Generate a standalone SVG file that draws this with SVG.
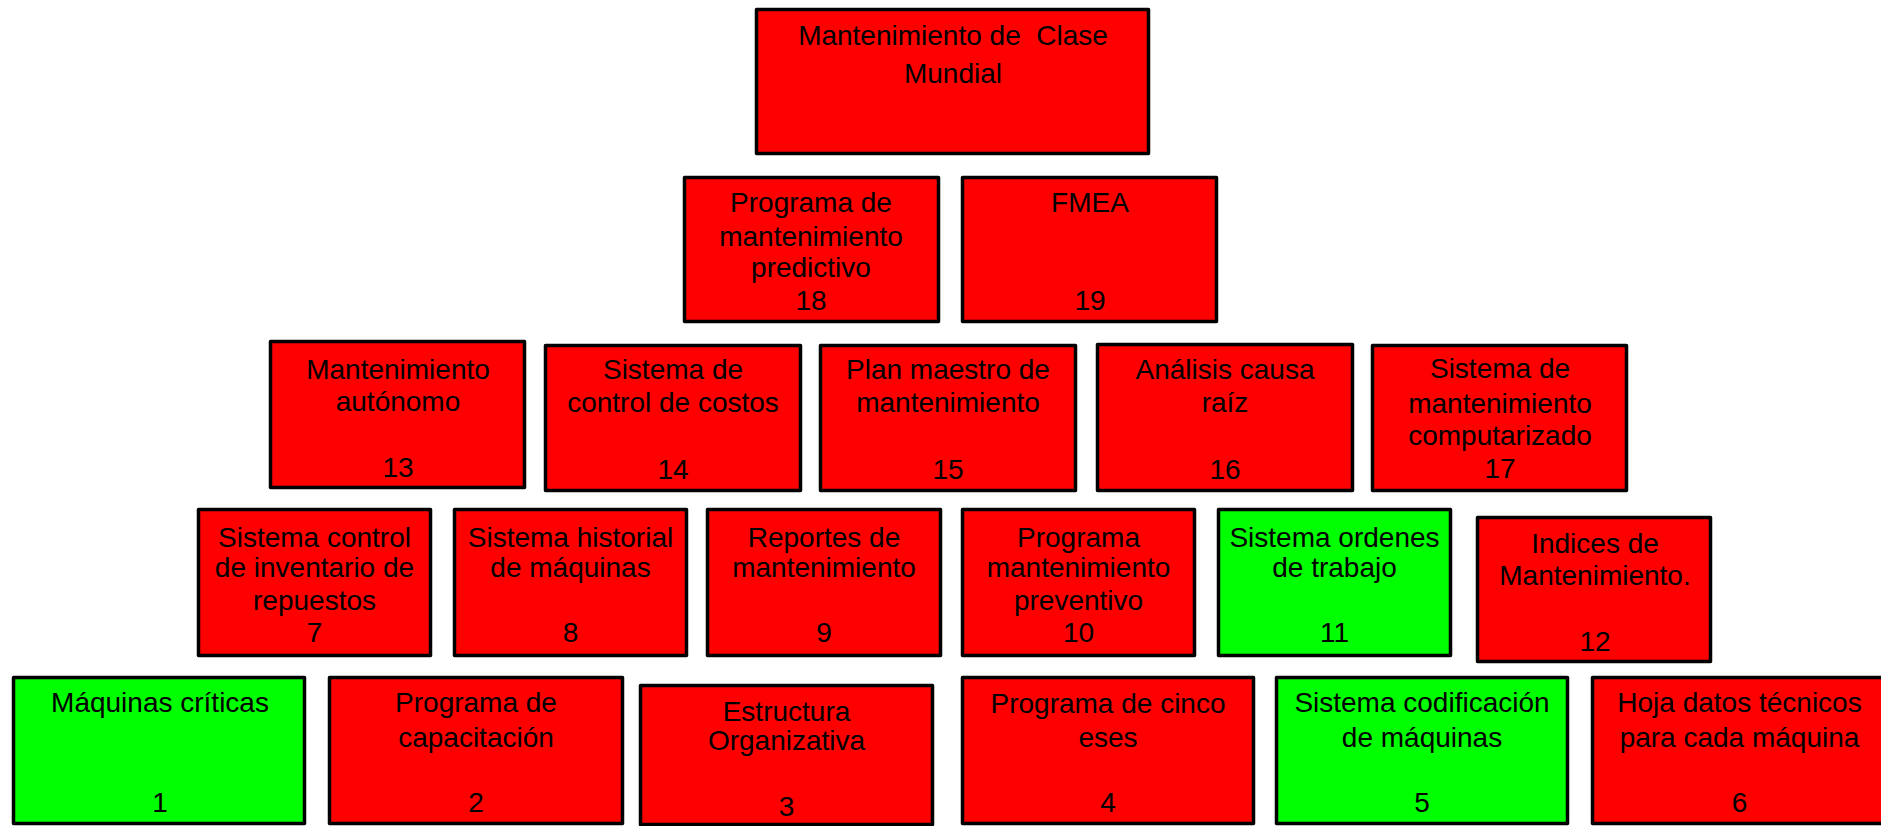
<svg xmlns="http://www.w3.org/2000/svg" width="1881" height="826" viewBox="0 0 1881 826">
<style>
rect.b{stroke:#000;stroke-width:3.5;stroke-linejoin:round}
.r{fill:#FF0000}
.g{fill:#00FF00}
text{font-family:"Liberation Sans",Arial,sans-serif;font-size:28px;fill:#000;text-anchor:middle;white-space:pre}
</style>
<rect width="1881" height="826" fill="#fff"/>
<g id="connectors"></g>
<g id="n0"><rect class="b r" x="756.5" y="9.5" width="392" height="144"/>
<text x="953" y="45">Mantenimiento de  Clase</text><text x="953" y="83">Mundial</text></g>
<g id="n18"><rect class="b r" x="684.5" y="177.5" width="254" height="144"/>
<text x="811" y="212">Programa de</text><text x="811" y="246">mantenimiento</text><text x="811" y="277">predictivo</text><text x="811" y="310">18</text></g>
<g id="n19"><rect class="b r" x="962.5" y="177.5" width="254" height="144"/>
<text x="1090" y="212">FMEA</text><text x="1090" y="310">19</text></g>
<g id="n13"><rect class="b r" x="270.5" y="341.5" width="254" height="146"/>
<text x="398" y="379">Mantenimiento</text><text x="398" y="411">autónomo</text><text x="398" y="477">13</text></g>
<g id="n14"><rect class="b r" x="545.5" y="345.5" width="255" height="145"/>
<text x="673" y="379">Sistema de</text><text x="673" y="412">control de costos</text><text x="673" y="479">14</text></g>
<g id="n15"><rect class="b r" x="820.5" y="345.5" width="255" height="145"/>
<text x="948" y="379">Plan maestro de</text><text x="948" y="412">mantenimiento</text><text x="948" y="479">15</text></g>
<g id="n16"><rect class="b r" x="1097.5" y="344.5" width="255" height="146"/>
<text x="1225" y="379">Análisis causa</text><text x="1225" y="412">raíz</text><text x="1225" y="479">16</text></g>
<g id="n17"><rect class="b r" x="1372.5" y="345.5" width="254" height="145"/>
<text x="1500" y="378">Sistema de</text><text x="1500" y="413">mantenimiento</text><text x="1500" y="445">computarizado</text><text x="1500" y="478">17</text></g>
<g id="n7"><rect class="b r" x="198.5" y="509.5" width="232" height="146"/>
<text x="314.5" y="547">Sistema control</text><text x="314.5" y="577">de inventario de</text><text x="314.5" y="610">repuestos</text><text x="314.5" y="642">7</text></g>
<g id="n8"><rect class="b r" x="454.5" y="509.5" width="232" height="146"/>
<text x="570.5" y="547">Sistema historial</text><text x="570.5" y="577">de máquinas</text><text x="570.5" y="642">8</text></g>
<g id="n9"><rect class="b r" x="707.5" y="509.5" width="233" height="146"/>
<text x="824" y="547">Reportes de</text><text x="824" y="577">mantenimiento</text><text x="824" y="642">9</text></g>
<g id="n10"><rect class="b r" x="962.5" y="509.5" width="232" height="146"/>
<text x="1078.5" y="547">Programa</text><text x="1078.5" y="577">mantenimiento</text><text x="1078.5" y="610">preventivo</text><text x="1078.5" y="642">10</text></g>
<g id="n11"><rect class="b g" x="1218.5" y="509.5" width="232" height="146"/>
<text x="1334.5" y="547">Sistema ordenes</text><text x="1334.5" y="577">de trabajo</text><text x="1334.5" y="642">11</text></g>
<g id="n12"><rect class="b r" x="1477.5" y="517.5" width="233" height="144"/>
<text x="1595" y="553">Indices de</text><text x="1595" y="585">Mantenimiento.</text><text x="1595" y="651">12</text></g>
<g id="n1"><rect class="b g" x="13.5" y="677.5" width="291" height="146"/>
<text x="160" y="712">Máquinas críticas</text><text x="160" y="812">1</text></g>
<g id="n2"><rect class="b r" x="329.5" y="677.5" width="293" height="146"/>
<text x="476" y="712">Programa de</text><text x="476" y="747">capacitación</text><text x="476" y="812">2</text></g>
<g id="n3"><rect class="b r" x="640.5" y="685.5" width="292" height="139"/>
<text x="786.5" y="721">Estructura</text><text x="786.5" y="750">Organizativa</text><text x="786.5" y="816">3</text></g>
<g id="n4"><rect class="b r" x="962.5" y="677.5" width="291" height="146"/>
<text x="1108" y="713">Programa de cinco</text><text x="1108" y="747">eses</text><text x="1108" y="812">4</text></g>
<g id="n5"><rect class="b g" x="1276.5" y="677.5" width="291" height="146"/>
<text x="1422" y="712">Sistema codificación</text><text x="1422" y="747">de máquinas</text><text x="1422" y="812">5</text></g>
<g id="n6"><rect class="b r" x="1592.5" y="677.5" width="294" height="146"/>
<text x="1739.5" y="712">Hoja datos técnicos</text><text x="1739.5" y="747">para cada máquina</text><text x="1739.5" y="812">6</text></g>
</svg>
